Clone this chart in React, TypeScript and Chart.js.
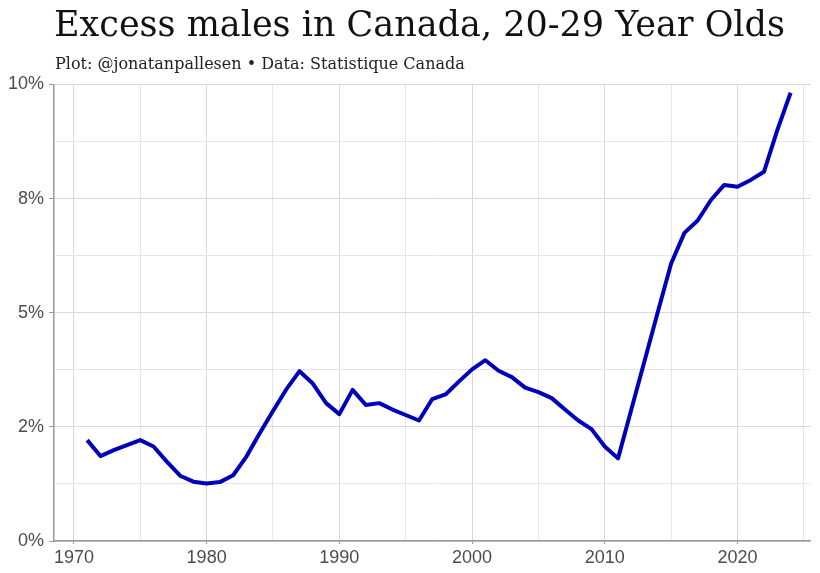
import React, { useEffect, useRef } from "react";
import { Chart, registerables } from "chart.js";

Chart.register(...registerables);

const years: number[] = [
  1971, 1972, 1973, 1974, 1975, 1976, 1977, 1978, 1979, 1980,
  1981, 1982, 1983, 1984, 1985, 1986, 1987, 1988, 1989, 1990,
  1991, 1992, 1993, 1994, 1995, 1996, 1997, 1998, 1999, 2000,
  2001, 2002, 2003, 2004, 2005, 2006, 2007, 2008, 2009, 2010,
  2011, 2012, 2013, 2014, 2015, 2016, 2017, 2018, 2019, 2020,
  2021, 2022, 2023, 2024,
];

const excessMalesPct: number[] = [
  2.21, 1.86, 1.99, 2.10, 2.21, 2.07, 1.74, 1.43, 1.30, 1.26,
  1.29, 1.44, 1.85, 2.36, 2.85, 3.32, 3.72, 3.45, 3.02, 2.78,
  3.31, 2.98, 3.02, 2.88, 2.76, 2.64, 3.11, 3.21, 3.49, 3.76,
  3.96, 3.73, 3.59, 3.36, 3.26, 3.13, 2.88, 2.64, 2.45, 2.07,
  1.81, 2.88, 3.95, 5.02, 6.08, 6.75, 7.02, 7.47, 7.80, 7.76,
  7.91, 8.09, 9.00, 9.82,
];

const xGridValues: number[] = [1970, 1975, 1980, 1985, 1990, 1995, 2000, 2005, 2010, 2015, 2020, 2025];
const xLabelValues: number[] = [1970, 1980, 1990, 2000, 2010, 2020];
const xLabels: string[] = ["1970", "1980", "1990", "2000", "2010", "2020"];

const yGridValues: number[] = [0, 1.25, 2.5, 3.75, 5, 6.25, 7.5, 8.75, 10];
const yLabelValues: number[] = [0, 2.5, 5, 7.5, 10];
const yLabels: string[] = ["0%", "2%", "5%", "8%", "10%"];

const TITLE = "Excess males in Canada, 20-29 Year Olds";
const SUBTITLE = "Plot: @jonatanpallesen \u2022 Data: Statistique Canada";

export default function App() {
  const canvasRef = useRef<HTMLCanvasElement | null>(null);

  useEffect(() => {
    if (!canvasRef.current) return;
    const isMajorX = (v: number) => xLabelValues.indexOf(v) >= 0;
    const isMajorY = (v: number) => yLabelValues.indexOf(v) >= 0;

    const chart = new Chart(canvasRef.current, {
      type: "line",
      data: {
        datasets: [
          {
            data: years.map((y, i) => ({ x: y, y: excessMalesPct[i] })),
            borderColor: "#0000bb",
            borderWidth: 4,
            pointRadius: 0,
            tension: 0,
            fill: false,
            borderJoinStyle: "round",
            borderCapStyle: "butt",
          },
        ],
      },
      options: {
        animation: false,
        responsive: false,
        devicePixelRatio: 1,
        layout: { padding: { top: 84.5, right: 9.5, left: 0, bottom: 0 } },
        plugins: {
          legend: { display: false },
          tooltip: { enabled: false },
          title: { display: false },
        },
        scales: {
          x: {
            type: "linear",
            min: 1968.5,
            max: 2025.5,
            afterBuildTicks: (scale: any) => {
              scale.ticks = xGridValues.map((v) => ({ value: v }));
            },
            afterFit: (scale: any) => {
              scale.height = 32;
            },
            border: { color: "#9a9a9a", width: 1.5 },
            grid: {
              color: (ctx: any) => (ctx.tick && isMajorX(ctx.tick.value) ? "#d8d8d8" : "#e6e6e6"),
              tickColor: (ctx: any) => (ctx.tick && isMajorX(ctx.tick.value) ? "#9a9a9a" : "rgba(0,0,0,0)"),
              tickLength: 3,
              lineWidth: 1,
            },
            ticks: {
              autoSkip: false,
              maxRotation: 0,
              minRotation: 0,
              padding: 3,
              color: "#4d4d4d",
              font: { family: "'Liberation Sans', Arial, sans-serif", size: 18 },
              callback: (value: any) => {
                const i = xLabelValues.indexOf(Number(value));
                return i >= 0 ? xLabels[i] : "";
              },
            },
          },
          y: {
            type: "linear",
            min: 0,
            max: 10,
            afterBuildTicks: (scale: any) => {
              scale.ticks = yGridValues.map((v) => ({ value: v }));
            },
            afterFit: (scale: any) => {
              scale.width = 54;
            },
            border: { color: "#9a9a9a", width: 1.5 },
            grid: {
              color: (ctx: any) => (ctx.tick && isMajorY(ctx.tick.value) ? "#d8d8d8" : "#e6e6e6"),
              tickColor: (ctx: any) => (ctx.tick && isMajorY(ctx.tick.value) ? "#9a9a9a" : "rgba(0,0,0,0)"),
              tickLength: 5,
              lineWidth: 1,
            },
            ticks: {
              autoSkip: false,
              padding: 5,
              color: "#4d4d4d",
              font: { family: "'Liberation Sans', Arial, sans-serif", size: 18 },
              callback: (value: any) => {
                const i = yLabelValues.indexOf(Number(value));
                return i >= 0 ? yLabels[i] : "";
              },
            },
          },
        },
      },
    } as any);

    return () => {
      chart.destroy();
    };
  }, []);

  return (
    <div style={{ position: "absolute", left: 0, top: 0, width: 820, height: 573, background: "#ffffff", overflow: "hidden" }}>
      <canvas ref={canvasRef} width={820} height={573} style={{ position: "absolute", left: 0, top: 0, width: 820, height: 573 }} />
      <div
        style={{
          position: "absolute",
          left: 54,
          top: 7,
          fontFamily: "'DejaVu Serif', serif",
          fontSize: 35,
          lineHeight: "35px",
          color: "#111111",
          whiteSpace: "nowrap",
        }}
      >
        {TITLE}
      </div>
      <div
        style={{
          position: "absolute",
          left: 55,
          top: 56,
          fontFamily: "'DejaVu Serif', serif",
          fontSize: 16,
          lineHeight: "16px",
          color: "#222222",
          whiteSpace: "nowrap",
        }}
      >
        {SUBTITLE}
      </div>
    </div>
  );
}
